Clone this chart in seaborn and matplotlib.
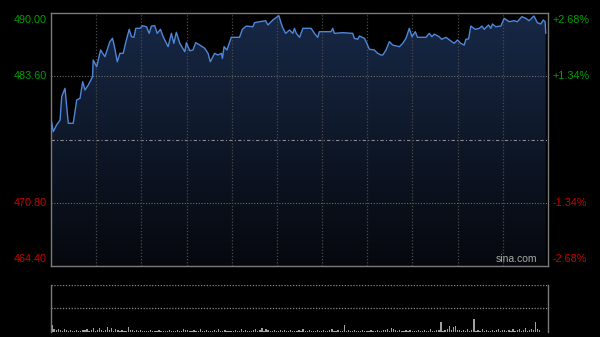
import numpy as np
import pandas as pd
import matplotlib
matplotlib.use("Agg")
import matplotlib.pyplot as plt
import seaborn as sns
from matplotlib.patches import Polygon
from matplotlib.colors import LinearSegmentedColormap

# ---------------- data ----------------
minutes = [0, 1.1, 2.7, 4.4, 5.2, 6.8, 8.4, 10.8, 12.5, 14.1, 15.4, 16.5, 18.1, 20.2, 20.5,
           22.2, 24.1, 26.2, 28.6, 29.9, 31.0, 32.2, 33.5, 35.1, 36.4, 38.0, 39.1, 40.3, 41.2,
           43.2, 44.5, 46.4, 47.7, 48.8, 50.4, 51.6, 53.2, 54.5, 56.9, 58.5, 59.7, 60.9, 62.6,
           65.0, 65.8, 67.4, 69.0, 70.3, 72.3, 74.7, 76.3, 77.4, 79.5, 81.1, 82.8, 83.3, 84.1,
           85.5, 87.6, 91.6, 93.0, 94.9, 98.1, 98.9, 101.4, 104.3, 105.4, 107.8, 110.7, 112.4,
           114.0, 115.9, 117.5, 118.3, 119.2, 120.8, 122.4, 126.4, 128.0, 129.6, 130.4, 136.1,
           136.9, 137.7, 141.7, 146.6, 147.4, 149.0, 149.9, 152.3, 153.1, 154.7, 157.1, 158.7,
           160.4, 161.2, 162.8, 164.4, 166.0, 169.3, 170.9, 172.5, 174.1, 175.4, 177.0, 178.1,
           182.2, 183.8, 185.1, 186.2, 188.6, 189.9, 191.9, 194.8, 195.9, 197.5, 199.1, 200.8,
           201.6, 202.9, 204.0, 206.1, 208.1, 209.4, 210.5, 212.6, 213.7, 214.5, 216.1, 218.6,
           220.2, 222.6, 225.0, 226.6, 228.8, 230.7, 232.3, 234.7, 236.3, 238.0, 239.2, 240.1,
           240.4]
prices = [479.34, 477.99, 478.67, 479.17, 481.53, 482.38, 478.84, 478.84, 481.20, 481.37,
          483.05, 482.21, 482.71, 483.55, 485.24, 484.57, 486.26, 485.58, 487.10, 487.44,
          486.43, 485.07, 485.92, 485.92, 487.10, 488.35, 487.60, 487.54, 488.45, 488.45,
          488.71, 488.61, 487.94, 488.68, 488.71, 487.94, 488.35, 487.60, 486.59, 487.94,
          486.93, 488.05, 486.93, 486.08, 487.00, 486.18, 486.26, 487.00, 486.76, 486.43,
          485.92, 485.07, 485.92, 485.75, 485.92, 485.41, 486.59, 486.26, 487.54, 487.54,
          488.35, 488.68, 488.61, 489.02, 489.12, 489.22, 488.79, 489.29, 489.73, 488.61,
          487.94, 488.28, 487.94, 488.45, 487.94, 487.54, 488.45, 488.45, 487.94, 487.54,
          488.11, 488.11, 488.45, 487.94, 488.01, 487.94, 487.44, 487.34, 487.67, 487.44,
          487.10, 486.33, 486.26, 485.92, 485.75, 485.75, 486.26, 487.10, 486.76, 486.59,
          486.93, 487.44, 488.45, 487.60, 488.11, 487.54, 487.54, 487.94, 487.60, 487.87,
          487.60, 487.34, 487.54, 487.10, 486.93, 487.27, 486.93, 486.76, 487.34, 487.37,
          488.68, 488.35, 488.45, 488.68, 488.35, 488.79, 488.45, 488.89, 488.61, 488.68,
          489.46, 489.12, 489.22, 489.12, 489.63, 489.46, 489.22, 489.70, 489.02, 488.89,
          489.29, 489.12, 487.94]

prev_close = 477.20
price_ticks = [490.00, 483.60, 477.20, 470.80, 464.40]
price_labels = ["490.00", "483.60", "", "470.80", "464.40"]
pct_labels = ["+2.68%", "+1.34%", "", "-1.34%", "-2.68%"]

volume = [7, 3, 2, 3, 2, 1, 3, 2, 1, 2, 1, 1, 2, 1, 1, 2, 2, 3, 1, 2, 4, 1,
          2, 4, 2, 1, 2, 5, 2, 4, 1, 3, 2, 1, 2, 1, 1, 5, 2, 2, 1, 2, 1, 2,
          1, 1, 1, 1, 2, 1, 1, 1, 2, 1, 1, 1, 1, 2, 1, 1, 1, 2, 1, 1, 3, 2,
          2, 1, 1, 2, 1, 1, 3, 1, 1, 2, 1, 1, 1, 2, 1, 3, 1, 1, 2, 1, 1, 1,
          1, 2, 1, 1, 3, 1, 2, 1, 1, 1, 2, 3, 1, 2, 4, 1, 3, 2, 1, 1, 2, 1,
          1, 2, 1, 2, 1, 1, 2, 1, 1, 1, 2, 1, 3, 1, 1, 2, 1, 1, 1, 2, 1, 1,
          2, 1, 1, 2, 3, 1, 1, 2, 1, 1, 7, 1, 2, 1, 1, 2, 1, 1, 1, 2, 1, 1,
          1, 2, 1, 1, 2, 1, 1, 2, 2, 3, 1, 4, 3, 2, 1, 2, 1, 1, 2, 1, 2, 1,
          1, 1, 2, 1, 1, 2, 1, 1, 3, 1, 1, 2, 2, 10, 1, 2, 3, 6, 2, 5, 6, 2,
          2, 1, 2, 1, 3, 1, 2, 13, 1, 2, 1, 3, 1, 2, 1, 1, 2, 1, 2, 3, 1, 2,
          2, 1, 2, 1, 3, 1, 2, 3, 1, 2, 4, 1, 2, 3, 2, 10, 3, 2]

# ---------------- style ----------------
sns.set_theme(style="dark")
plt.rcParams["font.family"] = ["Liberation Sans", "DejaVu Sans"]
BG = "#000000"
GRID = "#6a6a6a"
FRAME = "#7a7a7a"
GREEN = "#00a000"
RED = "#cc0000"
LINE = "#4f86d8"

fig = plt.figure(figsize=(6.0, 3.37), dpi=100, facecolor=BG)
ax = fig.add_axes([51 / 600, 1 - 266 / 337, 497 / 600, 253 / 337])
axv = fig.add_axes([51 / 600, 1 - 332 / 337, 497 / 600, 47 / 337])

xmax = 241.5
df = pd.DataFrame({"minute": minutes, "price": prices})

# main pane
ax.set_facecolor(BG)

grad = np.linspace(1, 0, 256).reshape(-1, 1)
cmap = LinearSegmentedColormap.from_list("g", ["#06080d", "#172846"])
im = ax.imshow(grad, extent=[0, xmax, price_ticks[-1], max(prices)], aspect="auto",
               cmap=cmap, origin="upper", zorder=1)
verts = [(minutes[0], price_ticks[-1])] + list(zip(minutes, prices)) + [(minutes[-1], price_ticks[-1])]
poly = Polygon(verts, closed=True, facecolor="none", edgecolor="none")
ax.add_patch(poly)
im.set_clip_path(poly)
ax.set_ylim(price_ticks[-1], price_ticks[0])
ax.set_xlim(0, xmax)

for t in price_ticks[1:-1]:
    if t == prev_close:
        ax.axhline(t, color="#8a8a8a", lw=0.8, ls=(0, (3, 2, 1, 2)), zorder=2)
    else:
        ax.axhline(t, color=GRID, lw=0.8, ls=(0, (1, 1.5)), zorder=2)
for xv in np.linspace(0, xmax, 12)[1:-1]:
    ax.axvline(xv, color="#4a4a4a", lw=0.9, ls=(0, (1, 1.5)), zorder=2)

sns.lineplot(data=df, x="minute", y="price", ax=ax, color=LINE, lw=1.0, zorder=4,
             sort=False, estimator=None)

ax.set_xticks([])
ax.set_yticks([])
ax.set_xlabel("")
ax.set_ylabel("")
for s in ax.spines.values():
    s.set_visible(True)
    s.set_color(FRAME)
    s.set_linewidth(1.0)

offs = [-5.0, 0, 0, 0, 5.0]
for t, lab, pl, o in zip(price_ticks, price_labels, pct_labels, offs):
    if not lab:
        continue
    col = GREEN if t > prev_close else RED
    ax.annotate(lab, xy=(0, t), xycoords=("axes fraction", "data"), xytext=(-3, o),
                textcoords="offset points", ha="right", va="center", color=col, fontsize=7.8)
    ax.annotate(pl, xy=(1, t), xycoords=("axes fraction", "data"), xytext=(3.5, o),
                textcoords="offset points", ha="left", va="center", color=col, fontsize=7.8)

ax.text(0.978, 0.008, "sina.com", transform=ax.transAxes, ha="right", va="bottom",
        color="#a8a8a8", fontsize=7.5, zorder=5)

# volume pane
axv.set_facecolor(BG)
vx = np.arange(len(volume))
axv.bar(vx, volume, width=0.6, color="#a0a0a0", linewidth=0)
axv.set_xlim(-0.5, xmax - 0.5)
axv.set_ylim(0, 47)
axv.axhline(47, color="#8a8a8a", lw=0.9, ls=(0, (1, 1.3)))
axv.axhline(24, color="#8a8a8a", lw=0.9, ls=(0, (1, 1.3)))
axv.set_xticks([])
axv.set_yticks([])
axv.spines["top"].set_visible(False)
axv.spines["bottom"].set_visible(False)
for k in ("left", "right"):
    axv.spines[k].set_visible(True)
    axv.spines[k].set_color(FRAME)
    axv.spines[k].set_linewidth(1.0)

fig.savefig("out.png", dpi=100, facecolor=BG)
